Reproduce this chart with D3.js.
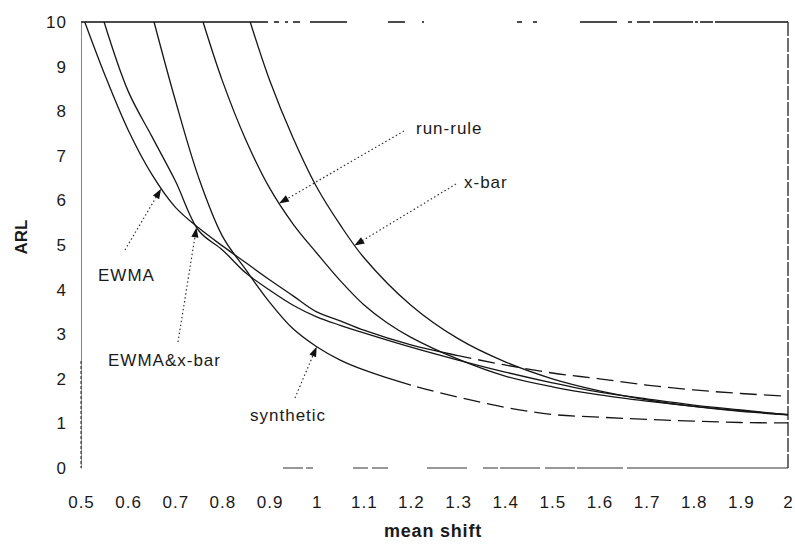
<!DOCTYPE html>
<html>
<head>
<meta charset="utf-8">
<script src="https://cdn.jsdelivr.net/npm/d3@7"></script>
<style>
  body { margin: 0; background: #fff; }
  svg { display: block; }
  text { font-family: "Liberation Sans", Arial, Helvetica, sans-serif; fill: #1a1a1a; }
</style>
</head>
<body>
<svg id="chart" width="795" height="544"></svg>
<script>
// ---- data -------------------------------------------------------------
const shiftTicks = [0.5, 0.6, 0.7, 0.8, 0.9, 1.0, 1.1, 1.2, 1.3, 1.4, 1.5, 1.6, 1.7, 1.8, 1.9, 2.0];
const shiftTickLabels = ["0.5", "0.6", "0.7", "0.8", "0.9", "1", "1.1", "1.2", "1.3", "1.4", "1.5", "1.6", "1.7", "1.8", "1.9", "2"];
const arlTicks = [0, 1, 2, 3, 4, 5, 6, 7, 8, 9, 10];

const ewmaShift = [0.508, 0.55, 0.6, 0.65, 0.7, 0.75, 0.8, 0.85, 0.9, 0.95, 1.0, 1.05, 1.1, 1.2, 1.3, 1.4, 1.5, 1.6, 1.7, 1.8, 1.9, 2.0];
const ewmaARL   = [10, 8.83, 7.58, 6.59, 5.85, 5.38, 4.98, 4.6, 4.22, 3.86, 3.5, 3.3, 3.09, 2.76, 2.52, 2.31, 2.13, 2.0, 1.86, 1.75, 1.67, 1.61];

const ewmaXbarShift = [0.549, 0.6, 0.65, 0.7, 0.75, 0.8, 0.85, 0.9, 0.95, 1.0, 1.05, 1.1, 1.2, 1.3, 1.4, 1.5, 1.6, 1.7, 1.8, 1.9, 2.0];
const ewmaXbarARL   = [10, 8.45, 7.44, 6.44, 5.32, 4.89, 4.37, 3.99, 3.65, 3.39, 3.2, 3.03, 2.71, 2.42, 2.15, 1.91, 1.7, 1.55, 1.41, 1.3, 1.19];

const syntheticShift = [0.655, 0.7, 0.75, 0.8, 0.85, 0.9, 0.95, 1.0, 1.05, 1.1, 1.2, 1.3, 1.4, 1.5, 1.6, 1.7, 1.8, 1.9, 2.0];
const syntheticARL   = [10, 8.25, 6.5, 5.2, 4.44, 3.72, 3.12, 2.72, 2.42, 2.2, 1.86, 1.59, 1.36, 1.2, 1.14, 1.09, 1.05, 1.02, 1.01];

const runRuleShift = [0.759, 0.8, 0.85, 0.9, 0.95, 1.0, 1.05, 1.1, 1.15, 1.2, 1.3, 1.4, 1.5, 1.6, 1.7, 1.8, 1.9, 2.0];
const runRuleARL   = [10, 8.68, 7.35, 6.28, 5.47, 4.82, 4.2, 3.66, 3.25, 2.93, 2.44, 2.06, 1.82, 1.64, 1.5, 1.38, 1.28, 1.2];

const xbarShift = [0.859, 0.9, 0.95, 1.0, 1.05, 1.1, 1.2, 1.3, 1.4, 1.5, 1.6, 1.7, 1.8, 1.9, 2.0];
const xbarARL   = [10, 8.7, 7.4, 6.3, 5.45, 4.72, 3.65, 2.9, 2.38, 2.0, 1.73, 1.53, 1.38, 1.27, 1.19];

const seriesNames = ["EWMA", "EWMA&x-bar", "synthetic", "run-rule", "x-bar"];
const seriesShifts = [ewmaShift, ewmaXbarShift, syntheticShift, runRuleShift, xbarShift];
const seriesARLs = [ewmaARL, ewmaXbarARL, syntheticARL, runRuleARL, xbarARL];

// shift at which each label's arrow touches its curve
const arrowShift = [0.67, 0.745, 1.0, 0.92, 1.08];

// ---- layout -----------------------------------------------------------
const svg = d3.select("#chart");
const x = d3.scaleLinear().domain([0.5, 2]).range([81, 788]);
const y = d3.scaleLinear().domain([0, 10]).range([468, 22]);

// label placement (pixels): text start, text baseline, leader tail
const labelLayout = {
  "EWMA":       { tx: 98,  ty: 281, lx: 125, ly: 250 },
  "EWMA&x-bar": { tx: 108, ty: 366, lx: 178, ly: 342 },
  "synthetic":  { tx: 250, ty: 421, lx: 295, ly: 398 },
  "run-rule":   { tx: 416, ty: 134, lx: 404, ly: 131 },
  "x-bar":      { tx: 464, ty: 188, lx: 456, ly: 184 }
};
// from this shift on, the flat tails are drawn broken
const dashedTailFrom = { "EWMA": 1.3, "synthetic": 1.2 };

svg.append("rect").attr("width", 795).attr("height", 544).attr("fill", "#fff");

// ---- axes -------------------------------------------------------------
const xAxis = svg.append("g")
  .attr("transform", `translate(0,${y(0)})`)
  .call(d3.axisBottom(x).tickValues(shiftTicks)
    .tickFormat((d, i) => shiftTickLabels[i]).tickSize(0).tickPadding(28))
  .attr("font-size", 17)
  .attr("font-family", '"Liberation Sans", Arial, sans-serif');
xAxis.select(".domain").remove();
xAxis.selectAll("text").attr("fill", "#1a1a1a").attr("letter-spacing", 1);

const yAxis = svg.append("g")
  .attr("transform", `translate(${x(0.5)},0)`)
  .call(d3.axisLeft(y).tickValues(arlTicks).tickSize(0).tickPadding(14))
  .attr("font-size", 17)
  .attr("font-family", '"Liberation Sans", Arial, sans-serif');
yAxis.select(".domain").attr("stroke", "#8a8a8a").attr("stroke-width", 1.1);
yAxis.selectAll("text").attr("fill", "#1a1a1a").attr("letter-spacing", 1);

// darker broken segment at the foot of the vertical axis
svg.append("line")
  .attr("x1", x(0.5)).attr("x2", x(0.5))
  .attr("y1", y(2.4)).attr("y2", y(0))
  .attr("stroke", "#333").attr("stroke-width", 1.1)
  .attr("stroke-dasharray", "3,2");

// frame: top, right and bottom edges, with the broken look of the print
svg.append("line")
  .attr("x1", x(0.5)).attr("x2", x(2)).attr("y1", y(10)).attr("y2", y(10))
  .attr("stroke", "#111").attr("stroke-width", 1.4)
  .attr("stroke-dasharray", "187,6,5,6,3,5,7,10,37,41,17,17,2,93,5,11,4,43,37,11,4,5,13,3,40,2,3,2,13,2,73,100");
svg.append("line")
  .attr("x1", x(2)).attr("x2", x(2)).attr("y1", y(10)).attr("y2", y(0))
  .attr("stroke", "#222").attr("stroke-width", 1.3)
  .attr("stroke-dasharray", "14,2");
svg.append("line")
  .attr("x1", x(0.5)).attr("x2", x(2)).attr("y1", y(0)).attr("y2", y(0))
  .attr("stroke", "#333").attr("stroke-width", 1.2)
  .attr("stroke-dasharray", "0,202,20,3,7,40,15,4,16,39,40,16,15,2,40,5,30,2,46,4,161,100");

// axis titles
svg.append("text")
  .attr("transform", "translate(21,237) rotate(-90)")
  .attr("text-anchor", "middle").attr("dy", "0.35em")
  .attr("font-size", 17).attr("font-weight", "bold")
  .text("ARL");
svg.append("text")
  .attr("x", 433).attr("y", 537)
  .attr("text-anchor", "middle")
  .attr("font-size", 18).attr("font-weight", "bold").attr("letter-spacing", 0.8)
  .text("mean shift");

// ---- curves -----------------------------------------------------------
const defs = svg.append("defs");
const line = d3.line()
  .x(d => x(d[0])).y(d => y(d[1]))
  .curve(d3.curveCatmullRom.alpha(0.5));

const curvePaths = {};
seriesNames.forEach((name, i) => {
  const pts = seriesShifts[i].map((s, j) => [s, seriesARLs[i][j]]);
  const cut = dashedTailFrom[name];
  const g = svg.append("g").attr("class", "series");
  if (cut === undefined) {
    curvePaths[name] = g.append("path").datum(pts)
      .attr("d", line).attr("fill", "none")
      .attr("stroke", "#161616").attr("stroke-width", 1.3);
  } else {
    const idA = "clipA" + i, idB = "clipB" + i;
    defs.append("clipPath").attr("id", idA).append("rect")
      .attr("x", 0).attr("y", 0).attr("width", x(cut)).attr("height", 544);
    defs.append("clipPath").attr("id", idB).append("rect")
      .attr("x", x(cut)).attr("y", 0).attr("width", 795 - x(cut)).attr("height", 544);
    curvePaths[name] = g.append("path").datum(pts)
      .attr("d", line).attr("fill", "none")
      .attr("stroke", "#161616").attr("stroke-width", 1.3)
      .attr("clip-path", `url(#${idA})`);
    g.append("path").datum(pts)
      .attr("d", line).attr("fill", "none")
      .attr("stroke", "#161616").attr("stroke-width", 1.3)
      .attr("stroke-dasharray", "17,7")
      .attr("clip-path", `url(#${idB})`);
  }
});

// point on a drawn curve at a given horizontal pixel position
function pointAtX(pathNode, px) {
  let lo = 0, hi = pathNode.getTotalLength();
  for (let k = 0; k < 40; k++) {
    const mid = (lo + hi) / 2;
    if (pathNode.getPointAtLength(mid).x < px) lo = mid; else hi = mid;
  }
  return pathNode.getPointAtLength((lo + hi) / 2);
}

// ---- labels with dotted leaders and arrowheads -------------------------
seriesNames.forEach((name, i) => {
  const L = labelLayout[name];
  const tip = pointAtX(curvePaths[name].node(), x(arrowShift[i]));
  const dx = tip.x - L.lx, dy = tip.y - L.ly;
  const len = Math.hypot(dx, dy);
  const ux = dx / len, uy = dy / len;
  const headLen = 10, headHalf = 3.6;
  const bx = tip.x - ux * headLen, by = tip.y - uy * headLen;

  svg.append("line")
    .attr("x1", L.lx).attr("y1", L.ly).attr("x2", bx).attr("y2", by)
    .attr("stroke", "#333").attr("stroke-width", 1.2)
    .attr("stroke-dasharray", "1.5,2.5");
  svg.append("path")
    .attr("d", `M${tip.x},${tip.y}L${bx - uy * headHalf},${by + ux * headHalf}L${bx + uy * headHalf},${by - ux * headHalf}Z`)
    .attr("fill", "#111");

  svg.append("text")
    .attr("x", L.tx).attr("y", L.ty)
    .attr("font-size", 17).attr("letter-spacing", 1)
    .text(name);
});
</script>
</body>
</html>
